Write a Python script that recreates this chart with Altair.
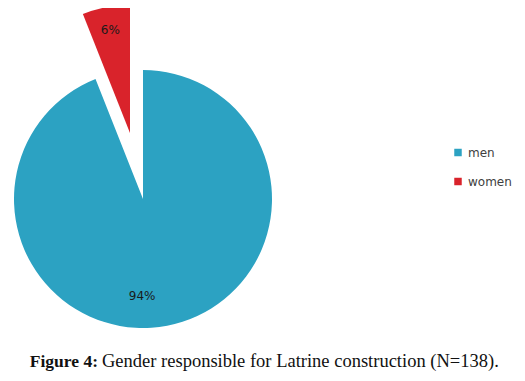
import altair as alt
import pandas as pd

categories = ["men", "women"]
values = [94, 6]
labels = ["94%", "6%"]
colors = ["#2CA2C2", "#D9232B"]
caption_bold = ["Figure 4:"]
caption_text = ["Gender responsible for Latrine construction (N=138)."]

df = pd.DataFrame({"gender": categories, "pct": values, "label": labels})

TOP = 8                    # top padding (chart y = page y - 16)
CX, CY = 135, 183          # main pie centre
WX, WY = 122, 117          # exploded women slice centre
R = 129

order = alt.Order("gender:N", sort="ascending")

base = alt.Chart(df).encode(
    theta=alt.Theta("pct:Q", stack=True),
    order=order,
    color=alt.Color(
        "gender:N",
        scale=alt.Scale(domain=categories, range=colors),
        legend=alt.Legend(
            title=None, orient="none", legendX=444, legendY=130.5,
            symbolType="square", symbolSize=56, symbolStrokeWidth=0,
            labelFont="DejaVu Sans", labelFontSize=12, labelColor="#404040",
            rowPadding=17, labelOffset=4,
        ),
    ),
)

men_arc = base.mark_arc(radius=R, stroke=None).encode(
    x=alt.value(CX), y=alt.value(CY),
    opacity=alt.condition("datum.gender == 'men'", alt.value(1), alt.value(0)),
)
women_arc = base.mark_arc(radius=R - 1, stroke=None).encode(
    x=alt.value(WX), y=alt.value(WY),
    opacity=alt.condition("datum.gender == 'women'", alt.value(1), alt.value(0)),
)

text_base = alt.Chart(df).encode(
    theta=alt.Theta("pct:Q", stack=True),
    order=order,
    text="label:N",
)
men_txt = text_base.mark_text(radius=97.5, thetaOffset=0.197, font="DejaVu Sans",
                              fontSize=12, color="#1a1a1a").encode(
    x=alt.value(CX), y=alt.value(CY),
    opacity=alt.condition("datum.gender == 'men'", alt.value(1), alt.value(0)),
)
women_txt = text_base.mark_text(radius=105, font="DejaVu Sans",
                                fontSize=12, color="#1a1a1a").encode(
    x=alt.value(WX), y=alt.value(WY),
    opacity=alt.condition("datum.gender == 'women'", alt.value(1), alt.value(0)),
)

cap1 = alt.Chart(pd.DataFrame({"t": caption_bold})).mark_text(
    font="Liberation Serif", fontSize=17.5, fontWeight="bold", align="right",
    baseline="alphabetic", color="#111111",
).encode(text="t:N", x=alt.value(90), y=alt.value(351))
cap2 = alt.Chart(pd.DataFrame({"t": caption_text})).mark_text(
    font="Liberation Serif", fontSize=18.5, align="left",
    baseline="alphabetic", color="#111111",
).encode(text="t:N", x=alt.value(94), y=alt.value(351))

chart = alt.layer(men_arc, women_arc, men_txt, women_txt, cap1, cap2).properties(
    width=509, height=357,
    autosize=alt.AutoSizeParams(type="none"),
    padding={"left": 0, "top": TOP, "right": 0, "bottom": 0},
).configure_view(stroke=None)

chart.save("out.html", embed_options={"renderer": "svg", "actions": False})
